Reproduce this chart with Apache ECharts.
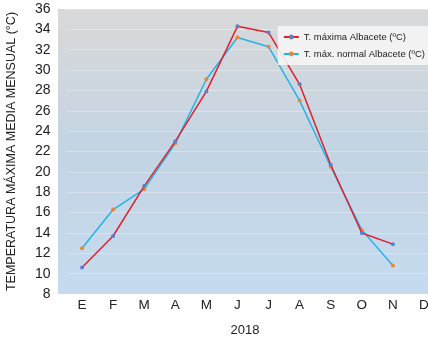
<!DOCTYPE html>
<html>
<head>
<meta charset="utf-8">
<script src="https://cdn.jsdelivr.net/npm/echarts@6/dist/echarts.min.js"></script>
<style>
  html, body { margin: 0; padding: 0; background: #fff; }
  #chart { width: 428px; height: 340px; }
</style>
</head>
<body>
<div id="chart"></div>
<script>
const months = ['E', 'F', 'M', 'A', 'M', 'J', 'J', 'A', 'S', 'O', 'N', 'D'];
const tMax2018 = [10.6, 13.7, 18.6, 23.0, 27.9, 34.3, 33.7, 28.6, 20.7, 14.0, 12.9, null];
const tMaxNormal = [12.5, 16.3, 18.3, 22.8, 29.1, 33.2, 32.3, 27.0, 20.5, 14.3, 10.8, null];
const yTicks = { min: 8, max: 36, step: 2 };

const chart = echarts.init(document.getElementById('chart'));
const font = '"Liberation Sans", Arial, sans-serif';

chart.setOption({
  animation: false,
  textStyle: { fontFamily: font },
  grid: { left: 66.5, top: 9, width: 373, height: 285, outerBoundsMode: 'none' },
  graphic: [{
    type: 'rect',
    z: -10,
    shape: { x: 58, y: 9, width: 370, height: 285 },
    style: {
      fill: new echarts.graphic.LinearGradient(0, 0, 0, 1, [
        { offset: 0, color: '#d9d9d9' },
        { offset: 0.5, color: '#c3d4e4' },
        { offset: 1, color: '#c6dbef' }
      ])
    }
  }],
  legend: {
    right: 0,
    top: 26,
    orient: 'vertical',
    itemGap: 7,
    itemWidth: 15,
    itemHeight: 6,
    padding: [6, 3, 6, 5],
    backgroundColor: 'rgba(245,245,245,0.9)',
    textStyle: { fontSize: 9.5, color: '#222' }
  },
  xAxis: {
    type: 'category',
    data: months,
    boundaryGap: true,
    name: '2018',
    nameLocation: 'middle',
    nameGap: 30,
    nameTextStyle: { fontSize: 13, color: '#222', padding: [0, 16, 0, 0] },
    axisLine: { show: false },
    axisTick: { show: false },
    axisLabel: { fontSize: 13.5, color: '#222', margin: 4 }
  },
  yAxis: {
    type: 'value',
    min: yTicks.min,
    max: yTicks.max,
    interval: yTicks.step,
    name: 'TEMPERATURA MÁXIMA MEDIA MENSUAL (°C)',
    nameLocation: 'middle',
    nameGap: 48,
    nameTextStyle: { fontSize: 12.5, color: '#222' },
    axisLine: { show: false },
    axisTick: { show: false },
    axisLabel: { fontSize: 14, color: '#222', margin: 16 },
    splitLine: { lineStyle: { color: 'rgba(255,255,255,0.3)', width: 1 } }
  },
  series: [
    {
      name: 'T. máxima Albacete (ºC)',
      type: 'line',
      data: tMax2018,
      symbol: 'circle',
      symbolSize: 4,
      lineStyle: { color: '#e0202e', width: 1.5 },
      itemStyle: { color: '#5b7fc8' },
      z: 3
    },
    {
      name: 'T. máx. normal Albacete (ºC)',
      type: 'line',
      data: tMaxNormal,
      symbol: 'circle',
      symbolSize: 4,
      lineStyle: { color: '#22b4e6', width: 1.5 },
      itemStyle: { color: '#e8873a' },
      z: 2
    }
  ]
});
</script>
</body>
</html>
